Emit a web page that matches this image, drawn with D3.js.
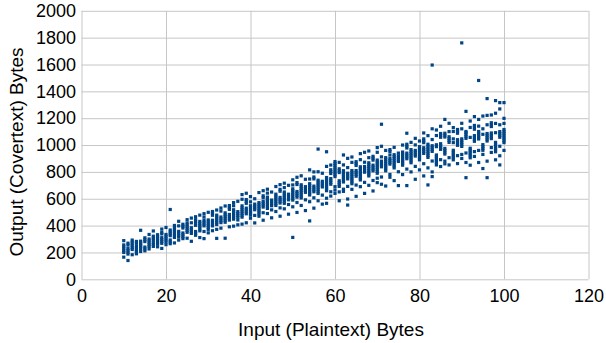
<!DOCTYPE html>
<html>
<head>
<meta charset="utf-8">
<script src="https://cdn.jsdelivr.net/npm/d3@7/dist/d3.min.js"></script>
<style>
  html, body { margin: 0; padding: 0; background: #ffffff; }
  svg { display: block; }
  text { font-family: "Liberation Sans", Arial, sans-serif; fill: #000; }
</style>
</head>
<body>
<svg id="chart" width="606" height="343"></svg>
<script>
// ---- Data ----
const inputBytes = [10,11,12,13,14,15,16,17,18,19,20,21,22,23,24,25,26,27,28,29,30,31,32,33,34,35,36,37,38,39,40,41,42,43,44,45,46,47,48,49,50,51,52,53,54,55,56,57,58,59,60,61,62,63,64,65,66,67,68,69,70,71,72,73,74,75,76,77,78,79,80,81,82,83,84,85,86,87,88,89,90,91,92,93,94,95,96,97,98,99,100];
const outputBytes = [
  [165,200,214,228,242,256,288],
  [140,188,202,216,230,255,269],
  [183,222,236,250,264,278,292],
  [190,205,219,233,247,268,282],
  [207,228,242,256,270,284,365],
  [212,226,240,281,295,309],
  [226,244,258,272,286,300,334],
  [245,259,273,293,307,321,360],
  [242,262,276,290,304,318,332],
  [230,268,282,296,310,338,350,374],
  [258,278,292,306,320,334,386],
  [265,279,293,325,339,353,367,520],
  [271,312,326,340,354,368,382,401],
  [292,315,329,343,357,398,432],
  [303,317,331,345,382,396,410],
  [306,350,364,378,392,406,420,444],
  [283,342,356,370,384,421,456],
  [328,342,356,402,416,430,444,466],
  [311,361,375,389,403,417,431,478],
  [303,356,398,412,426,440,464,489],
  [346,372,386,400,414,428,442,499],
  [362,398,412,426,440,477,491,505],
  [305,372,408,422,436,450,464,478,516],
  [381,422,436,450,464,508,531],
  [306,425,439,453,467,481,495,546],
  [391,441,455,469,483,521,535,549],
  [396,448,462,476,490,504,518,548,571],
  [406,442,462,476,490,504,581],
  [411,463,477,491,505,519,533,547,596,631],
  [421,488,502,516,530,566,580,594,641],
  [455,478,492,506,520,534,548,577,616],
  [420,476,518,532,546,560,600],
  [470,487,501,515,529,543,557,571,646],
  [440,496,538,552,566,580,608,622,660],
  [490,528,542,556,570,584,598,612,642,671],
  [458,517,548,562,576,590,650],
  [505,550,564,578,592,606,620,634,691],
  [470,532,568,582,596,610,656,670,705],
  [525,566,580,594,608,622,636,650,683,716],
  [485,557,592,606,620,634,700],
  [312,540,590,604,618,632,646,660,674,703,741],
  [498,572,612,626,640,654,706,720,760],
  [550,606,620,634,648,662,676,690,704,771],
  [512,592,648,662,676,690,745],
  [435,578,628,642,656,670,684,698,712,747,815],
  [530,607,652,666,680,694,748,762,800],
  [585,640,654,668,682,696,710,724,738,801,970],
  [560,627,688,702,716,730,790],
  [566,604,660,674,688,702,716,730,744,758,841,950],
  [620,652,708,722,736,750,788,802,816,851],
  [640,665,690,765,779,793,807,821,835,849,863,877],
  [585,651,692,706,720,734,795,809,823,871],
  [655,671,725,739,753,767,781,795,809,852,926],
  [553,598,692,748,762,776,790,832,901],
  [670,712,726,740,754,768,782,796,810,871,911],
  [618,702,768,782,796,810,848,862,876],
  [690,740,754,768,782,796,810,824,838,891,936],
  [640,722,798,812,826,840,872,946],
  [700,770,784,798,812,826,840,854,868,906,956],
  [658,736,808,822,836,850,888,902,916],
  [720,753,790,804,818,832,846,860,874,888,946,981],
  [708,762,838,852,866,880,912,991,1155],
  [695,808,822,836,850,864,878,892,906,960],
  [760,781,858,872,886,900,926,952,966],
  [735,830,844,858,872,886,900,914,928,983],
  [698,801,878,892,906,920,940],
  [780,850,864,878,892,906,920,934,948,1000],
  [698,821,898,912,926,940,978,992,1006,1088],
  [800,868,882,896,910,924,938,952,966,1020],
  [745,841,918,932,946,960,1001,1050],
  [815,890,904,918,932,946,960,974,988,1030],
  [770,861,938,952,966,980,1018,1032,1046,1090],
  [703,830,908,922,936,950,964,978,992,1006,1070],
  [765,800,881,953,967,981,995,1041,1121,1596],
  [852,870,884,898,912,926,988,1002,1071,1112],
  [840,891,968,982,996,1010,1058,1072,1086,1140],
  [860,880,933,947,961,975,1060,1074,1088,1191],
  [852,906,1020,1034,1048,1062,1100,1162],
  [890,905,919,933,947,961,1018,1046,1101,1130],
  [862,921,998,1012,1026,1040,1088,1102,1116],
  [900,930,990,1004,1018,1032,1046,1121,1162,1761],
  [757,870,941,1050,1064,1078,1092,1101,1251],
  [850,905,920,934,948,962,976,1057,1131,1179],
  [915,951,1028,1042,1056,1070,1118,1132,1146,1212],
  [870,960,1045,1059,1073,1087,1101,1141,1191,1481],
  [825,930,961,975,989,1003,1080,1121,1216],
  [757,880,1030,1044,1058,1072,1086,1151,1221,1346],
  [945,981,1048,1062,1076,1090,1138,1152,1166,1224],
  [890,950,964,978,992,1006,1020,1092,1161,1237,1331],
  [852,920,991,1058,1072,1086,1100,1151,1269,1316],
  [960,1018,1032,1046,1060,1074,1088,1102,1116,1161,1199,1316]
];
const xTicks = [0,20,40,60,80,100,120];
const yTicks = [0,200,400,600,800,1000,1200,1400,1600,1800,2000];
const xTitle = "Input (Plaintext) Bytes";
const yTitle = "Output (Covertext) Bytes";

// ---- Layout ----
const plot = { left: 81.5, right: 588.5, top: 10.8, bottom: 279.3 };
const svg = d3.select("#chart");

const x = d3.scaleLinear().domain([0, 120]).range([plot.left, plot.right]);
const y = d3.scaleLinear().domain([0, 2000]).range([plot.bottom, plot.top]);

const gridColor = "#c6c6c6";
const tickFont = 18;
const fmt = d3.format("d");

// X axis with vertical gridlines
const gx = svg.append("g")
  .attr("transform", `translate(0,${plot.bottom})`)
  .call(d3.axisBottom(x).tickValues(xTicks).tickFormat(fmt)
    .tickSizeInner(-(plot.bottom - plot.top)).tickSizeOuter(0).tickPadding(10));
gx.select(".domain").remove();
gx.selectAll(".tick line").attr("stroke", gridColor).attr("stroke-width", 1);
gx.selectAll(".tick text").attr("font-size", tickFont).attr("font-family", "Liberation Sans, Arial, sans-serif").attr("fill", "#000");

// Y axis with horizontal gridlines
const gy = svg.append("g")
  .attr("transform", `translate(${plot.left},0)`)
  .call(d3.axisLeft(y).tickValues(yTicks).tickFormat(fmt)
    .tickSizeInner(-(plot.right - plot.left)).tickSizeOuter(0).tickPadding(5.5));
gy.select(".domain").remove();
gy.selectAll(".tick line").attr("stroke", gridColor).attr("stroke-width", 1);
gy.selectAll(".tick text").attr("font-size", tickFont).attr("font-family", "Liberation Sans, Arial, sans-serif").attr("fill", "#000");

// Points
const pts = [];
inputBytes.forEach((xi, i) => outputBytes[i].forEach(v => pts.push([xi, v])));
const ms = 3.2;
svg.append("g").selectAll("rect").data(pts).join("rect")
  .attr("x", d => x(d[0]) - ms / 2)
  .attr("y", d => y(d[1]) - ms / 2)
  .attr("width", ms).attr("height", ms)
  .attr("fill", "#004586");

// Titles
svg.append("text")
  .attr("x", 331).attr("y", 336)
  .attr("text-anchor", "middle")
  .attr("font-size", 19)
  .text(xTitle);

svg.append("text")
  .attr("transform", `translate(23,152) rotate(-90)`)
  .attr("text-anchor", "middle")
  .attr("font-size", 19)
  .text(yTitle);
</script>
</body>
</html>
